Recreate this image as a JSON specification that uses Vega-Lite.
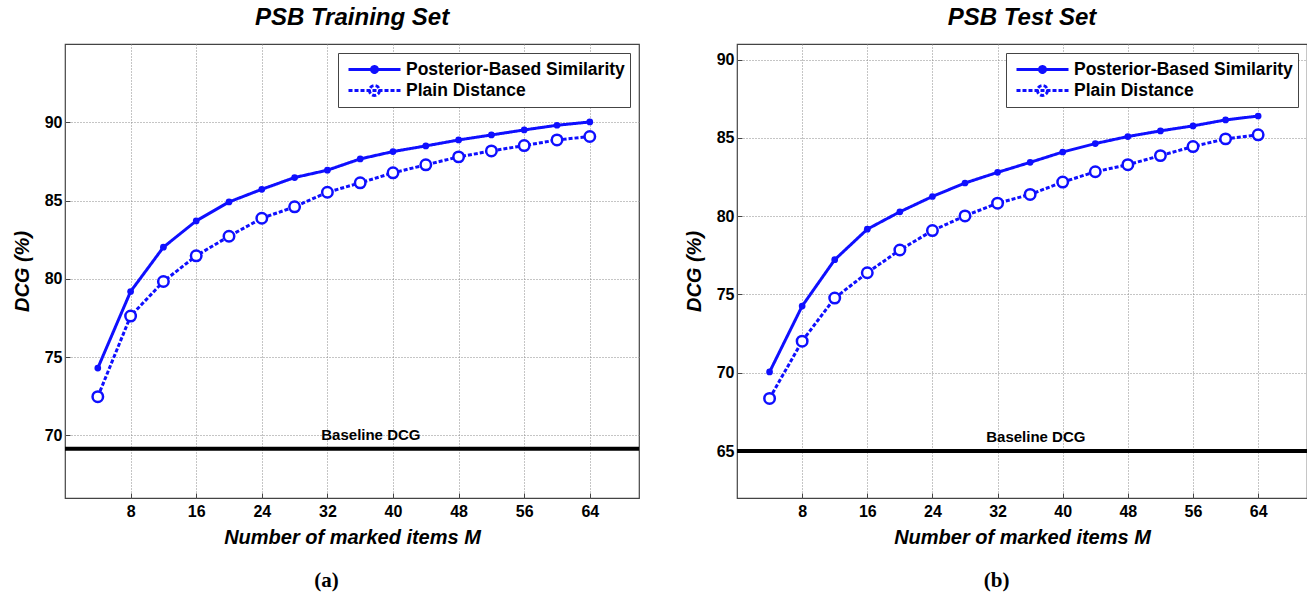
{
  "$schema": "https://vega.github.io/schema/vega-lite/v6.json",
  "padding": {"left": 11, "right": 0, "top": 5, "bottom": 5},
  "background": "white",
  "spacing": 41,
  "datasets": {
    "train": [
      {"M": 4, "method": "Posterior-Based Similarity", "dcg": 74.3},
      {"M": 8, "method": "Posterior-Based Similarity", "dcg": 79.19},
      {"M": 12, "method": "Posterior-Based Similarity", "dcg": 82.02},
      {"M": 16, "method": "Posterior-Based Similarity", "dcg": 83.7},
      {"M": 20, "method": "Posterior-Based Similarity", "dcg": 84.91},
      {"M": 24, "method": "Posterior-Based Similarity", "dcg": 85.72},
      {"M": 28, "method": "Posterior-Based Similarity", "dcg": 86.47},
      {"M": 32, "method": "Posterior-Based Similarity", "dcg": 86.94},
      {"M": 36, "method": "Posterior-Based Similarity", "dcg": 87.66},
      {"M": 40, "method": "Posterior-Based Similarity", "dcg": 88.13},
      {"M": 44, "method": "Posterior-Based Similarity", "dcg": 88.49},
      {"M": 48, "method": "Posterior-Based Similarity", "dcg": 88.87},
      {"M": 52, "method": "Posterior-Based Similarity", "dcg": 89.19},
      {"M": 56, "method": "Posterior-Based Similarity", "dcg": 89.51},
      {"M": 60, "method": "Posterior-Based Similarity", "dcg": 89.81},
      {"M": 64, "method": "Posterior-Based Similarity", "dcg": 90.02},
      {"M": 4, "method": "Plain Distance", "dcg": 72.47},
      {"M": 8, "method": "Plain Distance", "dcg": 77.62},
      {"M": 12, "method": "Plain Distance", "dcg": 79.83},
      {"M": 16, "method": "Plain Distance", "dcg": 81.47},
      {"M": 20, "method": "Plain Distance", "dcg": 82.72},
      {"M": 24, "method": "Plain Distance", "dcg": 83.87},
      {"M": 28, "method": "Plain Distance", "dcg": 84.6},
      {"M": 32, "method": "Plain Distance", "dcg": 85.53},
      {"M": 36, "method": "Plain Distance", "dcg": 86.13},
      {"M": 40, "method": "Plain Distance", "dcg": 86.77},
      {"M": 44, "method": "Plain Distance", "dcg": 87.28},
      {"M": 48, "method": "Plain Distance", "dcg": 87.79},
      {"M": 52, "method": "Plain Distance", "dcg": 88.17},
      {"M": 56, "method": "Plain Distance", "dcg": 88.51},
      {"M": 60, "method": "Plain Distance", "dcg": 88.87},
      {"M": 64, "method": "Plain Distance", "dcg": 89.09}
    ],
    "test": [
      {"M": 4, "method": "Posterior-Based Similarity", "dcg": 70.05},
      {"M": 8, "method": "Posterior-Based Similarity", "dcg": 74.26},
      {"M": 12, "method": "Posterior-Based Similarity", "dcg": 77.22},
      {"M": 16, "method": "Posterior-Based Similarity", "dcg": 79.17},
      {"M": 20, "method": "Posterior-Based Similarity", "dcg": 80.28},
      {"M": 24, "method": "Posterior-Based Similarity", "dcg": 81.26},
      {"M": 28, "method": "Posterior-Based Similarity", "dcg": 82.12},
      {"M": 32, "method": "Posterior-Based Similarity", "dcg": 82.8},
      {"M": 36, "method": "Posterior-Based Similarity", "dcg": 83.44},
      {"M": 40, "method": "Posterior-Based Similarity", "dcg": 84.1},
      {"M": 44, "method": "Posterior-Based Similarity", "dcg": 84.64},
      {"M": 48, "method": "Posterior-Based Similarity", "dcg": 85.09},
      {"M": 52, "method": "Posterior-Based Similarity", "dcg": 85.45},
      {"M": 56, "method": "Posterior-Based Similarity", "dcg": 85.77},
      {"M": 60, "method": "Posterior-Based Similarity", "dcg": 86.15},
      {"M": 64, "method": "Posterior-Based Similarity", "dcg": 86.4},
      {"M": 4, "method": "Plain Distance", "dcg": 68.36},
      {"M": 8, "method": "Plain Distance", "dcg": 72.02},
      {"M": 12, "method": "Plain Distance", "dcg": 74.77},
      {"M": 16, "method": "Plain Distance", "dcg": 76.39},
      {"M": 20, "method": "Plain Distance", "dcg": 77.84},
      {"M": 24, "method": "Plain Distance", "dcg": 79.08},
      {"M": 28, "method": "Plain Distance", "dcg": 80.02},
      {"M": 32, "method": "Plain Distance", "dcg": 80.83},
      {"M": 36, "method": "Plain Distance", "dcg": 81.39},
      {"M": 40, "method": "Plain Distance", "dcg": 82.18},
      {"M": 44, "method": "Plain Distance", "dcg": 82.84},
      {"M": 48, "method": "Plain Distance", "dcg": 83.29},
      {"M": 52, "method": "Plain Distance", "dcg": 83.87},
      {"M": 56, "method": "Plain Distance", "dcg": 84.45},
      {"M": 60, "method": "Plain Distance", "dcg": 84.94},
      {"M": 64, "method": "Plain Distance", "dcg": 85.2}
    ],
    "baseTrain": [{"baseline": 69.15, "label": "Baseline DCG"}],
    "baseTest": [{"baseline": 65.0, "label": "Baseline DCG"}]
  },
  "hconcat": [
    {
      "title": {"text": "(a)", "orient": "bottom", "font": "Liberation Serif", "fontSize": 21, "fontWeight": "bold", "fontStyle": "normal", "offset": 22, "color": "#000"},
      "resolve": {"scale": {"strokeDash": "independent"}, "legend": {"strokeDash": "independent"}},
      "vconcat": [
        {
          "title": {"text": "PSB Training Set", "offset": 14},
          "width": 574,
          "height": 454,
          "data": {"name": "train"},
          "layer": [
            {
              "mark": {"type": "line", "strokeWidth": 3, "color": "#0f0fff"},
              "encoding": {
                "x": {"field": "M", "type": "quantitative", "scale": {"domain": [0, 70], "nice": false}, "axis": {"values": [8, 16, 24, 32, 40, 48, 56, 64], "title": "Number of marked items M"}},
                "y": {"field": "dcg", "type": "quantitative", "scale": {"domain": [66, 95], "nice": false, "zero": false}, "axis": {"values": [70, 75, 80, 85, 90], "title": "DCG (%)"}},
                "strokeDash": {"field": "method", "type": "nominal", "scale": {"domain": ["Posterior-Based Similarity", "Plain Distance"], "range": [[1, 0], [4, 2]]},
                  "legend": {"title": null, "orient": "top-right",
                    "encode": {"symbols": {"update": {
                      "stroke": {"value": "#0f0fff"},
                      "strokeWidth": {"value": 3},
                      "fill": {"signal": "datum.value === 'Plain Distance' ? 'white' : '#0f0fff'"},
                      "shape": {"signal": "datum.value === 'Plain Distance' ? 'M-2.6,0L2.6,0M0.5,0A0.5,0.5,0,1,1,-0.5,0A0.5,0.5,0,1,1,0.5,0' : 'M-2.6,0L2.6,0M0.3,0A0.3,0.3,0,1,1,-0.3,0A0.3,0.3,0,1,1,0.3,0'"}
                    }}}}}
              }
            },
            {
              "transform": [{"filter": "datum.method === 'Posterior-Based Similarity'"}],
              "mark": {"type": "point", "filled": true, "size": 45, "color": "#0f0fff", "opacity": 1},
              "encoding": {"x": {"field": "M", "type": "quantitative"}, "y": {"field": "dcg", "type": "quantitative"}}
            },
            {
              "transform": [{"filter": "datum.method === 'Plain Distance'"}],
              "mark": {"type": "point", "filled": false, "size": 110, "strokeWidth": 2.5, "color": "#0f0fff", "fill": "white", "fillOpacity": 1, "opacity": 1},
              "encoding": {"x": {"field": "M", "type": "quantitative"}, "y": {"field": "dcg", "type": "quantitative"}}
            },
            {
              "data": {"name": "baseTrain"},
              "mark": {"type": "rule", "strokeWidth": 4, "color": "#000"},
              "encoding": {"y": {"field": "baseline", "type": "quantitative"}}
            },
            {
              "data": {"name": "baseTrain"},
              "mark": {"type": "text", "fontWeight": "bold", "fontSize": 15, "baseline": "bottom", "dy": -6, "font": "'Liberation Sans Narrow', 'Liberation Sans', Arial", "color": "#000"},
              "encoding": {"x": {"datum": 37.3}, "y": {"field": "baseline", "type": "quantitative"}, "text": {"field": "label"}}
            }
          ]
        }
      ]
    },
    {
      "title": {"text": "(b)", "orient": "bottom", "font": "Liberation Serif", "fontSize": 21, "fontWeight": "bold", "fontStyle": "normal", "offset": 22, "color": "#000"},
      "resolve": {"scale": {"strokeDash": "independent"}, "legend": {"strokeDash": "independent"}},
      "vconcat": [
        {
          "title": {"text": "PSB Test Set", "offset": 14},
          "width": 570,
          "height": 454,
          "data": {"name": "test"},
          "layer": [
            {
              "mark": {"type": "line", "strokeWidth": 3, "color": "#0f0fff"},
              "encoding": {
                "x": {"field": "M", "type": "quantitative", "scale": {"domain": [0, 70], "nice": false}, "axis": {"values": [8, 16, 24, 32, 40, 48, 56, 64], "title": "Number of marked items M"}},
                "y": {"field": "dcg", "type": "quantitative", "scale": {"domain": [62, 91], "nice": false, "zero": false}, "axis": {"values": [65, 70, 75, 80, 85, 90], "title": "DCG (%)"}},
                "strokeDash": {"field": "method", "type": "nominal", "scale": {"domain": ["Posterior-Based Similarity", "Plain Distance"], "range": [[1, 0], [4, 2]]},
                  "legend": {"title": null, "orient": "top-right",
                    "encode": {"symbols": {"update": {
                      "stroke": {"value": "#0f0fff"},
                      "strokeWidth": {"value": 3},
                      "fill": {"signal": "datum.value === 'Plain Distance' ? 'white' : '#0f0fff'"},
                      "shape": {"signal": "datum.value === 'Plain Distance' ? 'M-2.6,0L2.6,0M0.5,0A0.5,0.5,0,1,1,-0.5,0A0.5,0.5,0,1,1,0.5,0' : 'M-2.6,0L2.6,0M0.3,0A0.3,0.3,0,1,1,-0.3,0A0.3,0.3,0,1,1,0.3,0'"}
                    }}}}}
              }
            },
            {
              "transform": [{"filter": "datum.method === 'Posterior-Based Similarity'"}],
              "mark": {"type": "point", "filled": true, "size": 45, "color": "#0f0fff", "opacity": 1},
              "encoding": {"x": {"field": "M", "type": "quantitative"}, "y": {"field": "dcg", "type": "quantitative"}}
            },
            {
              "transform": [{"filter": "datum.method === 'Plain Distance'"}],
              "mark": {"type": "point", "filled": false, "size": 110, "strokeWidth": 2.5, "color": "#0f0fff", "fill": "white", "fillOpacity": 1, "opacity": 1},
              "encoding": {"x": {"field": "M", "type": "quantitative"}, "y": {"field": "dcg", "type": "quantitative"}}
            },
            {
              "data": {"name": "baseTest"},
              "mark": {"type": "rule", "strokeWidth": 4, "color": "#000"},
              "encoding": {"y": {"field": "baseline", "type": "quantitative"}}
            },
            {
              "data": {"name": "baseTest"},
              "mark": {"type": "text", "fontWeight": "bold", "fontSize": 15, "baseline": "bottom", "dy": -6, "font": "'Liberation Sans Narrow', 'Liberation Sans', Arial", "color": "#000"},
              "encoding": {"x": {"datum": 36.7}, "y": {"field": "baseline", "type": "quantitative"}, "text": {"field": "label"}}
            }
          ]
        }
      ]
    }
  ],
  "resolve": {"scale": {"strokeDash": "independent"}, "legend": {"strokeDash": "independent"}},
  "config": {
    "view": {"stroke": "#444", "strokeWidth": 1.2},
    "font": "'Liberation Sans Narrow', 'Liberation Sans', Arial",
    "title": {"font": "'Liberation Sans Narrow', 'Liberation Sans', Arial", "fontSize": 24, "fontWeight": "bold", "fontStyle": "italic", "color": "#000", "anchor": "middle"},
    "axis": {
      "grid": true, "gridColor": "#8a8a8a", "gridDash": [1, 2], "gridWidth": 1,
      "domain": false,
      "tickColor": "#444", "tickSize": -5,
      "labelFont": "'Liberation Sans Narrow', 'Liberation Sans', Arial", "labelFontWeight": "bold", "labelFontSize": 16, "labelColor": "#000", "labelPadding": 8,
      "titleFont": "'Liberation Sans Narrow', 'Liberation Sans', Arial", "titleFontSize": 20, "titleFontWeight": "bold", "titleFontStyle": "italic", "titleColor": "#000"
    },
    "axisY": {"titlePadding": 12},
    "axisX": {"titlePadding": 8, "labelPadding": 10},
    "legend": {
      "offset": 9,
      "strokeColor": "#444", "fillColor": "white", "padding": 5,
      "labelFont": "'Liberation Sans Narrow', 'Liberation Sans', Arial", "labelFontWeight": "bold", "labelFontSize": 17.5, "labelColor": "#000", "labelLimit": 400,
      "symbolType": "stroke", "symbolSize": 400, "symbolStrokeWidth": 3, "symbolStrokeColor": "#0f0fff",
      "symbolOffset": 20, "rowPadding": 0, "labelOffset": 20
    }
  }
}
